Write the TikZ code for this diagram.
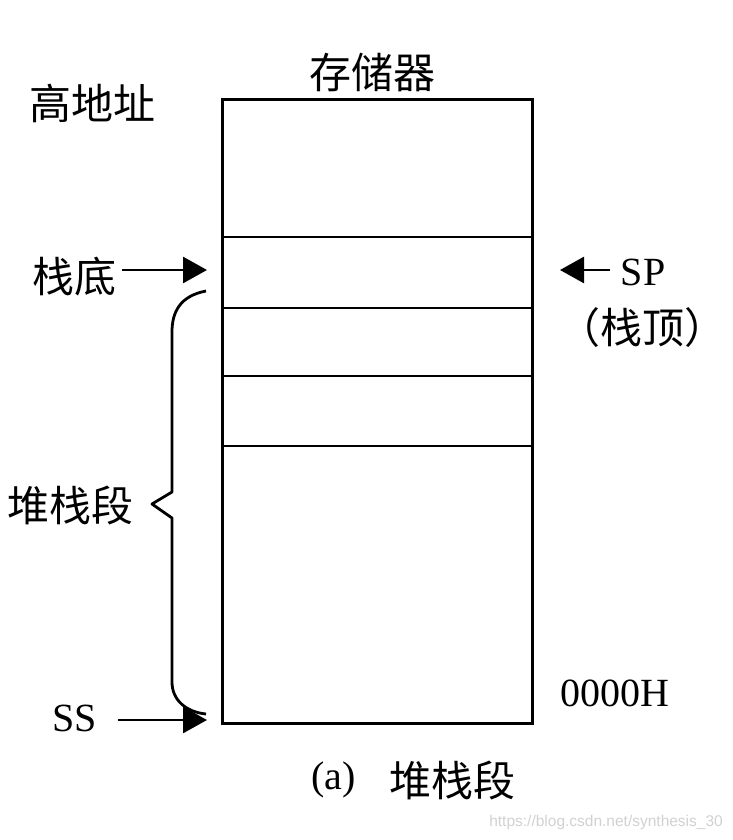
\documentclass[tikz,border=0pt]{standalone}
\usepackage{fontspec}
\setmainfont{Liberation Serif}
\newfontfamily\cjk{Noto Sans CJK SC}
\newfontfamily\wmfont{Liberation Sans}
\usetikzlibrary{arrows.meta}
\tikzset{
  lbl/.style={inner sep=0pt, font=\cjk\fontsize{42}{42}\selectfont},
  lat/.style={inner sep=0pt, font=\fontsize{40}{40}\selectfont},
  box/.style={draw, line width=2.8pt, inner sep=0pt},
  divider/.style={line width=2.8pt},
  arr/.style={line width=2.8pt, -{Triangle[length=24pt,width=26pt]}},
  brace/.style={line width=2.8pt, line join=round},
}
\begin{document}
\begin{tikzpicture}[x=1pt,y=-1pt]
\useasboundingbox (0,0) rectangle (732,840);
% memory box
\node[box, minimum width=310pt, minimum height=624pt, anchor=north west] (mem) at (221,98) {};
\foreach \yy in {237,308,376,446} \draw[divider] (mem.west |- 0,\yy) -- (mem.east |- 0,\yy);
% texts
\node[lbl] (title) at (372,72) {存储器};
\node[lbl] (high) at (92,103) {高地址};
\node[lbl] (bottom) at (74,277) {栈底};
\node[lat] (sp) at (643,272) {SP};
\node[lbl] (top) at (642,328) {（栈顶）};
\node[lbl] (seg) at (70,505) {堆栈段};
\node[lat] (ss) at (75,718) {SS};
\node[lat] (addr) at (615,693) {0000H};
\node[lat, anchor=east] (cap1) at (356,780) {(a)};
\node[lbl, anchor=west] (cap2) at (389,780) {堆栈段};
\node[inner sep=0pt, text=black!18, font=\wmfont\fontsize{15.5}{15.5}\selectfont, anchor=east] (wm) at (723,822) {https://blog.csdn.net/synthesis\_30};
% arrows
\coordinate (btail) at (122,270);
\coordinate (bhead) at (207,270);
\draw[arr] (btail) -- (bhead);
\coordinate (sptail) at (610,270);
\coordinate (sphead) at (560,270);
\draw[arr] (sptail) -- (sphead);
\coordinate (sstail) at (118,720);
\coordinate (sshead) at (207,720);
\draw[arr] (sstail) -- (sshead);
% brace
\coordinate (b1) at (206,291);
\coordinate (b2) at (172,332);
\coordinate (b3) at (172,492);
\coordinate (tip) at (152,504);
\coordinate (b4) at (172,518);
\coordinate (b5) at (172,682);
\coordinate (b6) at (206,714);
\draw[brace] (b1) .. controls (180,296) and (172,312) .. (b2) -- (b3) -- (tip) -- (b4) -- (b5) .. controls (172,700) and (186,712) .. (b6);
\end{tikzpicture}
\end{document}
